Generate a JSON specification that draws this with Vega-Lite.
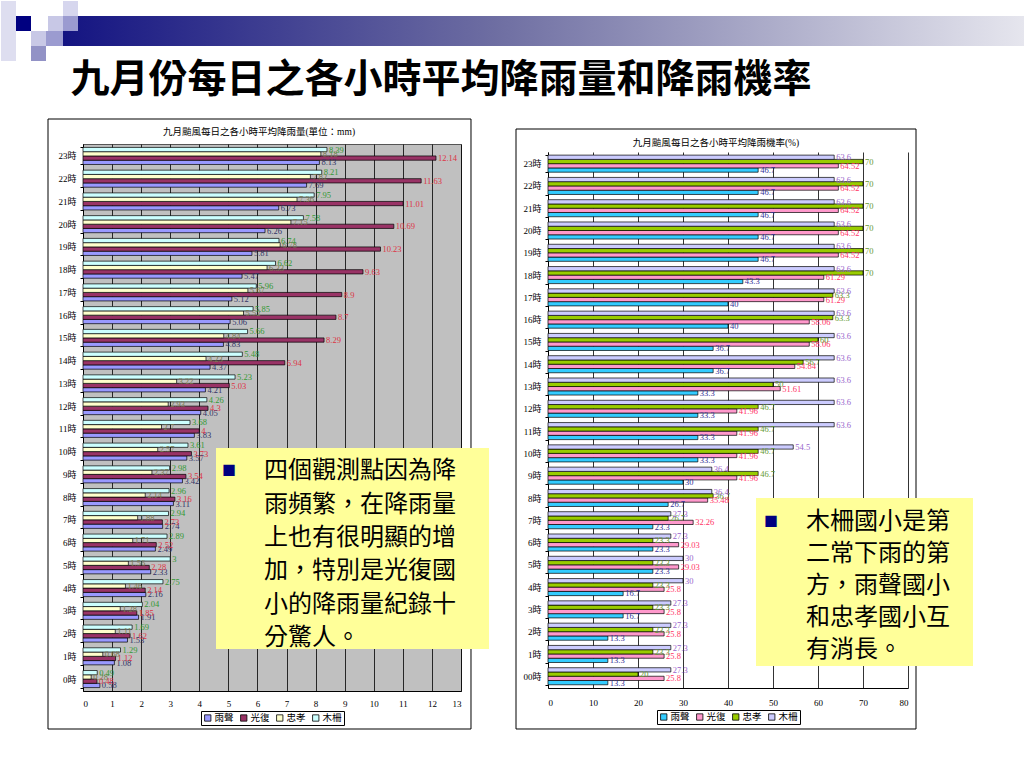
{
  "$schema": "https://vega.github.io/schema/vega-lite/v6.json",
  "padding": 0,
  "background": "white",
  "bounds": "flush",
  "spacing": 87,
  "resolve": {"scale": {"x": "independent", "y": "independent", "fill": "independent", "color": "independent"}, "legend": {"fill": "independent", "color": "independent"}},
  "config": {
    "view": {"stroke": null},
    "axis": {"labelFont": "Liberation Serif, Noto Sans CJK TC", "labelFontSize": 9, "labelColor": "#000", "domainColor": "#000", "tickColor": "#000", "gridColor": "#000", "gridWidth": 0.8, "gridOpacity": 1, "labelOverlap": false},
    "legend": {"orient": "bottom", "direction": "horizontal", "symbolType": "square", "symbolSize": 40, "symbolStrokeColor": "#000", "symbolStrokeWidth": 0.8, "labelFont": "Liberation Serif, Noto Sans CJK TC", "labelFontSize": 9.5, "labelColor": "#000", "strokeColor": "#000", "padding": 2, "columnPadding": 4, "labelOffset": 2, "offset": 3, "symbolOffset": 0, "layout": {"bottom": {"anchor": "middle"}}}
  },
  "datasets": {
    "rain": [
      {"h": "23時", "雨聲": 8.13, "光復": 12.14, "忠孝": 8.18, "木柵": 8.39},
      {"h": "22時", "雨聲": 7.69, "光復": 11.63, "忠孝": 7.82, "木柵": 8.21},
      {"h": "21時", "雨聲": 6.73, "光復": 11.01, "忠孝": 7.36, "木柵": 7.95},
      {"h": "20時", "雨聲": 6.26, "光復": 10.69, "忠孝": 7.15, "木柵": 7.58},
      {"h": "19時", "雨聲": 5.81, "光復": 10.23, "忠孝": 6.78, "木柵": 6.74},
      {"h": "18時", "雨聲": 5.47, "光復": 9.63, "忠孝": 6.33, "木柵": 6.62},
      {"h": "17時", "雨聲": 5.12, "光復": 8.9, "忠孝": 5.67, "木柵": 5.96},
      {"h": "16時", "雨聲": 5.06, "光復": 8.7, "忠孝": 5.52, "木柵": 5.85},
      {"h": "15時", "雨聲": 4.83, "光復": 8.29, "忠孝": 4.84, "木柵": 5.66},
      {"h": "14時", "雨聲": 4.37, "光復": 6.94, "忠孝": 4.23, "木柵": 5.48},
      {"h": "13時", "雨聲": 4.21, "光復": 5.03, "忠孝": 3.22, "木柵": 5.23},
      {"h": "12時", "雨聲": 4.05, "光復": 4.3, "忠孝": 2.93, "木柵": 4.26},
      {"h": "11時", "雨聲": 3.83, "光復": 4, "忠孝": 2.7, "木柵": 3.68},
      {"h": "10時", "雨聲": 3.57, "光復": 3.73, "忠孝": 2.57, "木柵": 3.61},
      {"h": "9時", "雨聲": 3.42, "光復": 3.54, "忠孝": 2.37, "木柵": 2.98},
      {"h": "8時", "雨聲": 3.11, "光復": 3.16, "忠孝": 2.14, "木柵": 2.96},
      {"h": "7時", "雨聲": 2.74, "光復": 2.73, "忠孝": 1.88, "木柵": 2.94},
      {"h": "6時", "雨聲": 2.49, "光復": 2.52, "忠孝": 1.71, "木柵": 2.89},
      {"h": "5時", "雨聲": 2.33, "光復": 2.28, "忠孝": 1.56, "木柵": 3},
      {"h": "4時", "雨聲": 2.16, "光復": 2.14, "忠孝": 1.46, "木柵": 2.75},
      {"h": "3時", "雨聲": 1.91, "光復": 1.85, "忠孝": 1.28, "木柵": 2.04},
      {"h": "2時", "雨聲": 1.53, "光復": 1.62, "忠孝": 1.11, "木柵": 1.69},
      {"h": "1時", "雨聲": 1.08, "光復": 1.12, "忠孝": 0.68, "木柵": 1.29},
      {"h": "0時", "雨聲": 0.58, "光復": 0.48, "忠孝": 0.28, "木柵": 0.49}
    ],
    "prob": [
      {"h": "23時", "雨聲": 46.7, "光復": 64.52, "忠孝": 70, "木柵": 63.6},
      {"h": "22時", "雨聲": 46.7, "光復": 64.52, "忠孝": 70, "木柵": 63.6},
      {"h": "21時", "雨聲": 46.7, "光復": 64.52, "忠孝": 70, "木柵": 63.6},
      {"h": "20時", "雨聲": 46.7, "光復": 64.52, "忠孝": 70, "木柵": 63.6},
      {"h": "19時", "雨聲": 46.7, "光復": 64.52, "忠孝": 70, "木柵": 63.6},
      {"h": "18時", "雨聲": 43.3, "光復": 61.29, "忠孝": 70, "木柵": 63.6},
      {"h": "17時", "雨聲": 40, "光復": 61.29, "忠孝": 63.3, "木柵": 63.6},
      {"h": "16時", "雨聲": 40, "光復": 58.06, "忠孝": 63.3, "木柵": 63.6},
      {"h": "15時", "雨聲": 36.7, "光復": 58.06, "忠孝": 60, "木柵": 63.6},
      {"h": "14時", "雨聲": 36.7, "光復": 54.84, "忠孝": 56.7, "木柵": 63.6},
      {"h": "13時", "雨聲": 33.3, "光復": 51.61, "忠孝": 50, "木柵": 63.6},
      {"h": "12時", "雨聲": 33.3, "光復": 41.96, "忠孝": 46.7, "木柵": 63.6},
      {"h": "11時", "雨聲": 33.3, "光復": 41.96, "忠孝": 46.7, "木柵": 63.6},
      {"h": "10時", "雨聲": 33.3, "光復": 41.96, "忠孝": 46.7, "木柵": 54.5},
      {"h": "9時", "雨聲": 30, "光復": 41.96, "忠孝": 46.7, "木柵": 36.4},
      {"h": "8時", "雨聲": 26.7, "光復": 35.48, "忠孝": 36.7, "木柵": 36.4},
      {"h": "7時", "雨聲": 23.3, "光復": 32.26, "忠孝": 26.7, "木柵": 27.3},
      {"h": "6時", "雨聲": 23.3, "光復": 29.03, "忠孝": 23.3, "木柵": 27.3},
      {"h": "5時", "雨聲": 23.3, "光復": 29.03, "忠孝": 23.3, "木柵": 30},
      {"h": "4時", "雨聲": 16.7, "光復": 25.8, "忠孝": 23.3, "木柵": 30},
      {"h": "3時", "雨聲": 16.7, "光復": 25.8, "忠孝": 23.3, "木柵": 27.3},
      {"h": "2時", "雨聲": 13.3, "光復": 25.8, "忠孝": 23.3, "木柵": 27.3},
      {"h": "1時", "雨聲": 13.3, "光復": 25.8, "忠孝": 23.3, "木柵": 27.3},
      {"h": "00時", "雨聲": 13.3, "光復": 25.8, "忠孝": 20, "木柵": 27.3}
    ]
  },
  "hconcat": [
    {
      "width": 378,
      "height": 547,
      "view": {"fill": "#c0c0c0", "stroke": "#555"},
      "resolve": {"scale": {"y": "independent"}},
      "layer": [
        {"data": {"values": [{}]}, "mark": {"type": "rect", "fill": "#dedef0"},
         "encoding": {"x": {"datum": -2.8201, "type": "quantitative", "scale": {"domain": [0, 13], "nice": false, "zero": false}, "axis": {"title": null, "values": [0,1,2,3,4,5,6,7,8,9,10,11,12,13], "grid": true, "ticks": false, "labelPadding": 8, "labelOverlap": false}}, "x2": {"datum": -2.3042},
                      "y": {"datum": 1.26143, "type": "quantitative", "scale": {"domain": [0, 1], "nice": false, "zero": false}, "axis": null}, "y2": {"datum": 1.15174}}},
        {"data": {"values": [{}]}, "mark": {"type": "rect", "fill": "#000080"},
         "encoding": {"x": {"datum": -2.3042, "type": "quantitative", "scale": {"domain": [0, 13], "nice": false, "zero": false}, "axis": {"title": null, "values": [0,1,2,3,4,5,6,7,8,9,10,11,12,13], "grid": true, "ticks": false, "labelPadding": 8, "labelOverlap": false}}, "x2": {"datum": -1.7884},
                      "y": {"datum": 1.234, "type": "quantitative", "scale": {"domain": [0, 1], "nice": false, "zero": false}, "axis": null}, "y2": {"datum": 1.20658}}},
        {"data": {"values": [{}]}, "mark": {"type": "rect", "fill": {"gradient": "linear", "x1": 0, "y1": 0, "x2": 1, "y2": 0, "stops": [{"offset": 0, "color": "#141482"}, {"offset": 0.45, "color": "#6e6ea2"}, {"offset": 1, "color": "#e6e6ee"}]}},
         "encoding": {"x": {"datum": -0.6878, "type": "quantitative", "scale": {"domain": [0, 13], "nice": false, "zero": false}, "axis": {"title": null, "values": [0,1,2,3,4,5,6,7,8,9,10,11,12,13], "grid": true, "ticks": false, "labelPadding": 8, "labelOverlap": false}}, "x2": {"datum": 32.3968},
                      "y": {"datum": 1.234, "type": "quantitative", "scale": {"domain": [0, 1], "nice": false, "zero": false}, "axis": null}, "y2": {"datum": 1.17916}}},
        {"data": {"values": [{}]}, "mark": {"type": "rect", "fill": "#c8c8e6"},
         "encoding": {"x": {"datum": -1.2037, "type": "quantitative", "scale": {"domain": [0, 13], "nice": false, "zero": false}, "axis": {"title": null, "values": [0,1,2,3,4,5,6,7,8,9,10,11,12,13], "grid": true, "ticks": false, "labelPadding": 8, "labelOverlap": false}}, "x2": {"datum": -0.6878},
                      "y": {"datum": 1.234, "type": "quantitative", "scale": {"domain": [0, 1], "nice": false, "zero": false}, "axis": null}, "y2": {"datum": 1.20658}}},
        {"data": {"values": [{}]}, "mark": {"type": "rect", "fill": "#9b9bd0"},
         "encoding": {"x": {"datum": -0.6878, "type": "quantitative", "scale": {"domain": [0, 13], "nice": false, "zero": false}, "axis": {"title": null, "values": [0,1,2,3,4,5,6,7,8,9,10,11,12,13], "grid": true, "ticks": false, "labelPadding": 8, "labelOverlap": false}}, "x2": {"datum": -0.172},
                      "y": {"datum": 1.234, "type": "quantitative", "scale": {"domain": [0, 1], "nice": false, "zero": false}, "axis": null}, "y2": {"datum": 1.20658}}},
        {"data": {"values": [{}]}, "mark": {"type": "rect", "fill": "#d6d6ee"},
         "encoding": {"x": {"datum": -0.6878, "type": "quantitative", "scale": {"domain": [0, 13], "nice": false, "zero": false}, "axis": {"title": null, "values": [0,1,2,3,4,5,6,7,8,9,10,11,12,13], "grid": true, "ticks": false, "labelPadding": 8, "labelOverlap": false}}, "x2": {"datum": -0.172},
                      "y": {"datum": 1.26143, "type": "quantitative", "scale": {"domain": [0, 1], "nice": false, "zero": false}, "axis": null}, "y2": {"datum": 1.234}}},
        {"data": {"values": [{}]}, "mark": {"type": "rect", "fill": "#c8c8e6"},
         "encoding": {"x": {"datum": -1.7884, "type": "quantitative", "scale": {"domain": [0, 13], "nice": false, "zero": false}, "axis": {"title": null, "values": [0,1,2,3,4,5,6,7,8,9,10,11,12,13], "grid": true, "ticks": false, "labelPadding": 8, "labelOverlap": false}}, "x2": {"datum": -1.2725},
                      "y": {"datum": 1.20658, "type": "quantitative", "scale": {"domain": [0, 1], "nice": false, "zero": false}, "axis": null}, "y2": {"datum": 1.17916}}},
        {"data": {"values": [{}]}, "mark": {"type": "rect", "fill": "#9b9bd0"},
         "encoding": {"x": {"datum": -1.2725, "type": "quantitative", "scale": {"domain": [0, 13], "nice": false, "zero": false}, "axis": {"title": null, "values": [0,1,2,3,4,5,6,7,8,9,10,11,12,13], "grid": true, "ticks": false, "labelPadding": 8, "labelOverlap": false}}, "x2": {"datum": -0.6878},
                      "y": {"datum": 1.20658, "type": "quantitative", "scale": {"domain": [0, 1], "nice": false, "zero": false}, "axis": null}, "y2": {"datum": 1.17916}}},
        {"data": {"values": [{}]}, "mark": {"type": "rect", "fill": "#9292c6"},
         "encoding": {"x": {"datum": -1.7884, "type": "quantitative", "scale": {"domain": [0, 13], "nice": false, "zero": false}, "axis": {"title": null, "values": [0,1,2,3,4,5,6,7,8,9,10,11,12,13], "grid": true, "ticks": false, "labelPadding": 8, "labelOverlap": false}}, "x2": {"datum": -1.2725},
                      "y": {"datum": 1.17916, "type": "quantitative", "scale": {"domain": [0, 1], "nice": false, "zero": false}, "axis": null}, "y2": {"datum": 1.15174}}},
        {"data": {"values": [{}]}, "mark": {"type": "rect", "fill": "transparent", "stroke": "#000", "strokeWidth": 1},
         "encoding": {"x": {"datum": -1.2037, "type": "quantitative", "scale": {"domain": [0, 13], "nice": false, "zero": false}, "axis": {"title": null, "values": [0,1,2,3,4,5,6,7,8,9,10,11,12,13], "grid": true, "ticks": false, "labelPadding": 8, "labelOverlap": false}}, "x2": {"datum": 13.3439},
                      "y": {"datum": 1.0457, "type": "quantitative", "scale": {"domain": [0, 1], "nice": false, "zero": false}, "axis": null}, "y2": {"datum": -0.06947}}},
        {
          "data": {"name": "rain"},
          "transform": [{"fold": ["雨聲", "光復", "忠孝", "木柵"], "as": ["s", "v"]}],
          "layer": [
            {"mark": {"type": "bar", "stroke": "#000", "strokeWidth": 0.7},
             "encoding": {
               "y": {"field": "h", "type": "nominal", "sort": ["23時","22時","21時","20時","19時","18時","17時","16時","15時","14時","13時","12時","11時","10時","9時","8時","7時","6時","5時","4時","3時","2時","1時","0時"], "scale": {"paddingInner": 0.25, "paddingOuter": 0.15}, "axis": {"title": null, "tickBand": "extent", "tickSize": 3, "labelPadding": 4, "grid": false}},
               "yOffset": {"field": "s", "type": "nominal", "sort": ["木柵", "忠孝", "光復", "雨聲"]},
               "x": {"field": "v", "type": "quantitative", "scale": {"domain": [0, 13], "nice": false, "zero": false}, "axis": {"title": null, "values": [0,1,2,3,4,5,6,7,8,9,10,11,12,13], "grid": true, "ticks": false, "labelPadding": 8, "labelOverlap": false}},
               "fill": {"field": "s", "type": "nominal", "scale": {"domain": ["雨聲", "光復", "忠孝", "木柵"], "range": ["#9999ff", "#993366", "#ffffcc", "#ccffff"]}, "legend": {"title": null, "symbolStrokeColor": "#000"}}
             }},
            {"mark": {"type": "text", "align": "left", "baseline": "middle", "dx": 2, "font": "Liberation Serif", "fontSize": 8.5},
             "encoding": {
               "y": {"field": "h", "type": "nominal", "sort": ["23時","22時","21時","20時","19時","18時","17時","16時","15時","14時","13時","12時","11時","10時","9時","8時","7時","6時","5時","4時","3時","2時","1時","0時"], "scale": {"paddingInner": 0.25, "paddingOuter": 0.15}, "axis": {"title": null, "tickBand": "extent", "tickSize": 3, "labelPadding": 4, "grid": false}},
               "yOffset": {"field": "s", "type": "nominal", "sort": ["木柵", "忠孝", "光復", "雨聲"]},
               "x": {"field": "v", "type": "quantitative", "scale": {"domain": [0, 13], "nice": false, "zero": false}, "axis": {"title": null, "values": [0,1,2,3,4,5,6,7,8,9,10,11,12,13], "grid": true, "ticks": false, "labelPadding": 8, "labelOverlap": false}},
               "text": {"field": "v", "type": "nominal"},
               "color": {"field": "s", "type": "nominal", "scale": {"domain": ["雨聲", "光復", "忠孝", "木柵"], "range": ["#333366", "#dd3344", "#7a7a52", "#339933"]}, "legend": null}
             }}
          ]
        },
        {"data": {"values": [{}]}, "mark": {"type": "rect", "fill": "#ffff99"},
         "encoding": {"x": {"datum": 4.5741, "type": "quantitative", "scale": {"domain": [0, 13], "nice": false, "zero": false}, "axis": {"title": null, "values": [0,1,2,3,4,5,6,7,8,9,10,11,12,13], "grid": true, "ticks": false, "labelPadding": 8, "labelOverlap": false}}, "x2": {"datum": 13.963},
                      "y": {"datum": 0.44424, "type": "quantitative", "scale": {"domain": [0, 1], "nice": false, "zero": false}, "axis": null}, "y2": {"datum": 0.07678}}},
        {"data": {"values": [{}]}, "mark": {"type": "text", "text": "■", "font": "Noto Sans CJK TC", "fontSize": 14, "color": "#000080", "align": "center", "baseline": "middle"},
         "encoding": {"x": {"datum": 5.0212, "type": "quantitative", "scale": {"domain": [0, 13], "nice": false, "zero": false}, "axis": {"title": null, "values": [0,1,2,3,4,5,6,7,8,9,10,11,12,13], "grid": true, "ticks": false, "labelPadding": 8, "labelOverlap": false}},
                      "y": {"datum": 0.40219, "type": "quantitative", "scale": {"domain": [0, 1], "nice": false, "zero": false}, "axis": null}}},
        {"data": {"values": [{}]}, "mark": {"type": "text", "text": ["四個觀測點因為降", "雨頻繁，在降雨量", "上也有很明顯的增", "加，特別是光復國", "小的降雨量紀錄十", "分驚人。"], "font": "Noto Sans CJK TC", "fontSize": 24, "lineHeight": 33.3, "color": "#000", "align": "left", "baseline": "top"},
         "encoding": {"x": {"datum": 6.2249, "type": "quantitative", "scale": {"domain": [0, 13], "nice": false, "zero": false}, "axis": {"title": null, "values": [0,1,2,3,4,5,6,7,8,9,10,11,12,13], "grid": true, "ticks": false, "labelPadding": 8, "labelOverlap": false}},
                      "y": {"datum": 0.42322, "type": "quantitative", "scale": {"domain": [0, 1], "nice": false, "zero": false}, "axis": null}}},
        {"data": {"values": [{}]}, "mark": {"type": "text", "text": "九月颱風每日之各小時平均降雨量(單位：mm)", "font": "Liberation Serif, Noto Sans CJK TC", "fontSize": 9.5, "color": "#000", "align": "center", "baseline": "middle"},
         "encoding": {"x": {"datum": 6.0529, "type": "quantitative", "scale": {"domain": [0, 13], "nice": false, "zero": false}, "axis": {"title": null, "values": [0,1,2,3,4,5,6,7,8,9,10,11,12,13], "grid": true, "ticks": false, "labelPadding": 8, "labelOverlap": false}},
                      "y": {"datum": 1.02194, "type": "quantitative", "scale": {"domain": [0, 1], "nice": false, "zero": false}, "axis": null}}},
        {"data": {"values": [{}]}, "mark": {"type": "text", "text": "九月份每日之各小時平均降雨量和降雨機率", "font": "Noto Sans CJK TC", "fontSize": 39, "fontWeight": "bold", "color": "#000", "align": "center", "baseline": "middle"},
         "encoding": {"x": {"datum": 12.3122, "type": "quantitative", "scale": {"domain": [0, 13], "nice": false, "zero": false}, "axis": {"title": null, "values": [0,1,2,3,4,5,6,7,8,9,10,11,12,13], "grid": true, "ticks": false, "labelPadding": 8, "labelOverlap": false}},
                      "y": {"datum": 1.117, "type": "quantitative", "scale": {"domain": [0, 1], "nice": false, "zero": false}, "axis": null}}}
      ]
    },
    {
      "spacing": 0,
      "bounds": "flush",
      "resolve": {"legend": {"fill": "independent", "color": "independent"}, "scale": {"fill": "independent", "color": "independent"}},
      "vconcat": [
        {"width": 360, "height": 8, "data": {"values": [{}]}, "mark": {"type": "point", "opacity": 0}, "view": {"stroke": null}},
        {
          "width": 360,
          "height": 536,
          "view": {"fill": "white", "stroke": null},
          "resolve": {"scale": {"y": "independent"}},
          "layer": [
            {"data": {"values": [{}]}, "mark": {"type": "rect", "fill": "transparent", "stroke": "#000", "strokeWidth": 1},
             "encoding": {"x": {"datum": -7.1111, "type": "quantitative", "scale": {"domain": [0, 80], "nice": false, "zero": false}, "axis": {"title": null, "values": [0,10,20,30,40,50,60,70,80], "grid": true, "ticks": false, "labelPadding": 10, "labelOverlap": false}}, "x2": {"datum": 81.7778},
                          "y": {"datum": 1.04291, "type": "quantitative", "scale": {"domain": [0, 1], "nice": false, "zero": false}, "axis": null}, "y2": {"datum": -0.07649}}},
            {
              "data": {"name": "prob"},
              "transform": [{"fold": ["雨聲", "光復", "忠孝", "木柵"], "as": ["s", "v"]}],
              "layer": [
                {"mark": {"type": "bar", "stroke": "#000", "strokeWidth": 0.7},
                 "encoding": {
                   "y": {"field": "h", "type": "nominal", "sort": ["23時","22時","21時","20時","19時","18時","17時","16時","15時","14時","13時","12時","11時","10時","9時","8時","7時","6時","5時","4時","3時","2時","1時","00時"], "scale": {"paddingInner": 0.23, "paddingOuter": 0.14}, "axis": {"title": null, "tickBand": "extent", "tickSize": 3, "labelPadding": 4, "grid": false}},
                   "yOffset": {"field": "s", "type": "nominal", "sort": ["木柵", "忠孝", "光復", "雨聲"]},
                   "x": {"field": "v", "type": "quantitative", "scale": {"domain": [0, 80], "nice": false, "zero": false}, "axis": {"title": null, "values": [0,10,20,30,40,50,60,70,80], "grid": true, "ticks": false, "labelPadding": 10, "labelOverlap": false}},
                   "fill": {"field": "s", "type": "nominal", "scale": {"domain": ["雨聲", "光復", "忠孝", "木柵"], "range": ["#33ccff", "#ff99cc", "#99cc00", "#ccccff"]}, "legend": {"title": null, "symbolStrokeColor": "#000"}}
                 }},
                {"mark": {"type": "text", "align": "left", "baseline": "middle", "dx": 2, "font": "Liberation Serif", "fontSize": 8.5},
                 "encoding": {
                   "y": {"field": "h", "type": "nominal", "sort": ["23時","22時","21時","20時","19時","18時","17時","16時","15時","14時","13時","12時","11時","10時","9時","8時","7時","6時","5時","4時","3時","2時","1時","00時"], "scale": {"paddingInner": 0.23, "paddingOuter": 0.14}, "axis": {"title": null, "tickBand": "extent", "tickSize": 3, "labelPadding": 4, "grid": false}},
                   "yOffset": {"field": "s", "type": "nominal", "sort": ["木柵", "忠孝", "光復", "雨聲"]},
                   "x": {"field": "v", "type": "quantitative", "scale": {"domain": [0, 80], "nice": false, "zero": false}, "axis": {"title": null, "values": [0,10,20,30,40,50,60,70,80], "grid": true, "ticks": false, "labelPadding": 10, "labelOverlap": false}},
                   "text": {"field": "v", "type": "nominal"},
                   "color": {"field": "s", "type": "nominal", "scale": {"domain": ["雨聲", "光復", "忠孝", "木柵"], "range": ["#333399", "#ff3366", "#669933", "#9966cc"]}, "legend": null}
                 }}
              ]
            },
            {"data": {"values": [{}]}, "mark": {"type": "rect", "fill": "#ffff99"},
             "encoding": {"x": {"datum": 46.2222, "type": "quantitative", "scale": {"domain": [0, 80], "nice": false, "zero": false}, "axis": {"title": null, "values": [0,10,20,30,40,50,60,70,80], "grid": true, "ticks": false, "labelPadding": 10, "labelOverlap": false}}, "x2": {"datum": 94.4444},
                          "y": {"datum": 0.35448, "type": "quantitative", "scale": {"domain": [0, 1], "nice": false, "zero": false}, "axis": null}, "y2": {"datum": 0.04104}}},
            {"data": {"values": [{}]}, "mark": {"type": "text", "text": "■", "font": "Noto Sans CJK TC", "fontSize": 14, "color": "#000080", "align": "center", "baseline": "middle"},
             "encoding": {"x": {"datum": 49.5556, "type": "quantitative", "scale": {"domain": [0, 80], "nice": false, "zero": false}, "axis": {"title": null, "values": [0,10,20,30,40,50,60,70,80], "grid": true, "ticks": false, "labelPadding": 10, "labelOverlap": false}},
                          "y": {"datum": 0.3097, "type": "quantitative", "scale": {"domain": [0, 1], "nice": false, "zero": false}, "axis": null}}},
            {"data": {"values": [{}]}, "mark": {"type": "text", "text": ["木柵國小是第", "二常下雨的第", "方，雨聲國小", "和忠孝國小互", "有消長。"], "font": "Noto Sans CJK TC", "fontSize": 24, "lineHeight": 32, "color": "#000", "align": "left", "baseline": "top"},
             "encoding": {"x": {"datum": 57.3333, "type": "quantitative", "scale": {"domain": [0, 80], "nice": false, "zero": false}, "axis": {"title": null, "values": [0,10,20,30,40,50,60,70,80], "grid": true, "ticks": false, "labelPadding": 10, "labelOverlap": false}},
                          "y": {"datum": 0.33116, "type": "quantitative", "scale": {"domain": [0, 1], "nice": false, "zero": false}, "axis": null}}},
            {"data": {"values": [{}]}, "mark": {"type": "text", "text": "九月颱風每日之各小時平均降雨機率(%)", "font": "Liberation Serif, Noto Sans CJK TC", "fontSize": 9.5, "color": "#000", "align": "center", "baseline": "middle"},
             "encoding": {"x": {"datum": 37.3333, "type": "quantitative", "scale": {"domain": [0, 80], "nice": false, "zero": false}, "axis": {"title": null, "values": [0,10,20,30,40,50,60,70,80], "grid": true, "ticks": false, "labelPadding": 10, "labelOverlap": false}},
                          "y": {"datum": 1.01679, "type": "quantitative", "scale": {"domain": [0, 1], "nice": false, "zero": false}, "axis": null}}}
          ]
        }
      ]
    }
  ]
}
